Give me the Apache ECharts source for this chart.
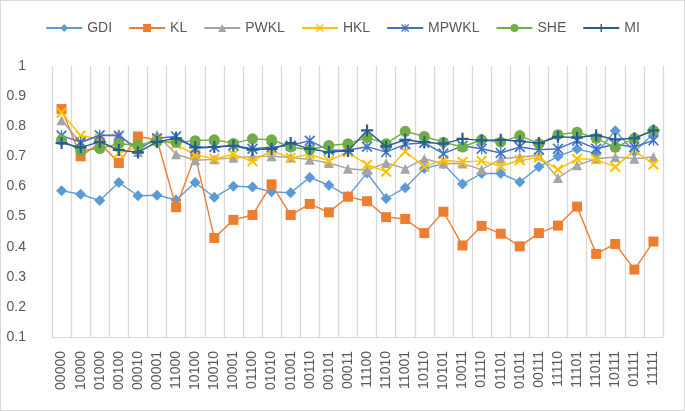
<!DOCTYPE html>
<html>
<head>
<meta charset="utf-8">
<script src="https://cdn.jsdelivr.net/npm/echarts@6/dist/echarts.min.js"></script>
<style>
html,body{margin:0;padding:0;background:#fff;}
#c{width:685px;height:411px;box-sizing:border-box;border:1px solid #d9d9d9;}
</style>
</head>
<body>
<div id="c"></div>
<script>
const categories = ["00000","10000","01000","00100","00010","00001","11000","10100","10010","10001","01100","01010","01001","00110","00101","00011","11100","11010","11001","10110","10101","10011","01110","01101","01011","00111","11110","11101","11011","10111","01111","11111"];
const yTicks = [0.1,0.2,0.3,0.4,0.5,0.6,0.7,0.8,0.9,1];

const GDI   = [0.586,0.574,0.553,0.613,0.569,0.571,0.555,0.613,0.564,0.601,0.598,0.582,0.579,0.630,0.604,0.567,0.645,0.560,0.596,0.660,0.675,0.608,0.643,0.643,0.615,0.665,0.700,0.724,0.710,0.785,0.715,0.775];
const KL    = [0.857,0.700,0.745,0.678,0.766,0.755,0.531,0.703,0.429,0.489,0.505,0.607,0.505,0.542,0.514,0.566,0.551,0.498,0.492,0.445,0.516,0.404,0.469,0.443,0.401,0.445,0.470,0.533,0.376,0.409,0.324,0.417];
const PWKL  = [0.820,0.745,0.768,0.775,0.714,0.772,0.707,0.687,0.690,0.695,0.700,0.700,0.696,0.689,0.678,0.659,0.654,0.678,0.659,0.692,0.676,0.676,0.656,0.692,0.698,0.703,0.628,0.670,0.692,0.698,0.692,0.698];
const HKL   = [0.845,0.769,0.758,0.711,0.730,0.753,0.740,0.705,0.692,0.706,0.684,0.718,0.695,0.707,0.685,0.714,0.672,0.649,0.716,0.666,0.687,0.681,0.685,0.667,0.687,0.696,0.656,0.692,0.690,0.665,0.720,0.673];
const MPWKL = [0.769,0.747,0.770,0.768,0.725,0.760,0.766,0.727,0.731,0.736,0.725,0.730,0.736,0.752,0.720,0.720,0.732,0.714,0.740,0.745,0.709,0.735,0.725,0.711,0.731,0.722,0.725,0.752,0.725,0.740,0.731,0.753];
const SHE   = [0.755,0.719,0.726,0.742,0.737,0.750,0.746,0.752,0.755,0.743,0.758,0.755,0.731,0.722,0.736,0.742,0.762,0.742,0.783,0.766,0.747,0.731,0.755,0.747,0.769,0.742,0.772,0.780,0.760,0.730,0.760,0.786];
const MI    = [0.744,0.730,0.748,0.721,0.713,0.748,0.760,0.730,0.731,0.735,0.722,0.725,0.744,0.725,0.714,0.718,0.786,0.733,0.755,0.747,0.742,0.758,0.753,0.755,0.750,0.744,0.765,0.762,0.770,0.756,0.760,0.786];

const names = ["GDI","KL","PWKL","HKL","MPWKL","SHE","MI"];
const seriesData = [GDI,KL,PWKL,HKL,MPWKL,SHE,MI];
const colors = ["#5B9BD5","#ED7D31","#A5A5A5","#FFC000","#4472C4","#70AD47","#255E91"];
const X_PATH = 'path://M0,1.3L1.3,0L5,3.7L8.7,0L10,1.3L6.3,5L10,8.7L8.7,10L5,6.3L1.3,10L0,8.7L3.7,5Z';
const STAR_PATH = 'path://M0,1.1L1.1,0L5,3.9L8.9,0L10,1.1L6.1,5L10,8.9L8.9,10L5,6.1L1.1,10L0,8.9L3.9,5Z M4.45,0H5.55V10H4.45Z';
const PLUS_PATH = 'path://M4.1,0H5.9V4.1H10V5.9H5.9V10H4.1V5.9H0V4.1H4.1Z';
const symbols = ['diamond','rect','triangle',X_PATH,STAR_PATH,'circle',PLUS_PATH];
const sizes = [11,10,10,11,11,11,12];

const chart = echarts.init(document.getElementById('c'), null, {renderer:'canvas'});
const font = '"Liberation Sans", Arial, sans-serif';
chart.setOption({
  animation:false,
  color:colors,
  textStyle:{fontFamily:font},
  legend:{
    top:15, left:'center',
    itemWidth:36, itemHeight:10, itemGap:16,
    textStyle:{color:'#595959', fontSize:14, fontFamily:font},
    data:names
  },
  grid:{left:51, right:21, top:65, bottom:73, containLabel:false},
  xAxis:{
    type:'category', data:categories, boundaryGap:true,
    axisLine:{show:true, lineStyle:{color:'#d9d9d9', width:1}},
    axisTick:{show:false},
    splitLine:{show:true, interval:0, lineStyle:{color:'#d9d9d9', width:1.3}},
    axisLabel:{rotate:90, interval:0, margin:14, color:'#595959', fontSize:14, fontFamily:font}
  },
  yAxis:{
    type:'value', min:yTicks[0], max:yTicks[yTicks.length-1], interval:0.1,
    axisLine:{show:false}, axisTick:{show:false}, splitLine:{show:false},
    axisLabel:{margin:26, color:'#595959', fontSize:14, fontFamily:font,
      formatter:function(v){return String(Math.round(v*10)/10);}}
  },
  series: names.map(function(n,i){
    return {
      name:n, type:'line', data:seriesData[i],
      symbol:symbols[i], symbolSize:sizes[i], showAllSymbol:true,
      lineStyle:{width:1.4, color:colors[i]},
      itemStyle:{color:colors[i], borderWidth:0},
      z:2+i
    };
  })
});
</script>
</body>
</html>
